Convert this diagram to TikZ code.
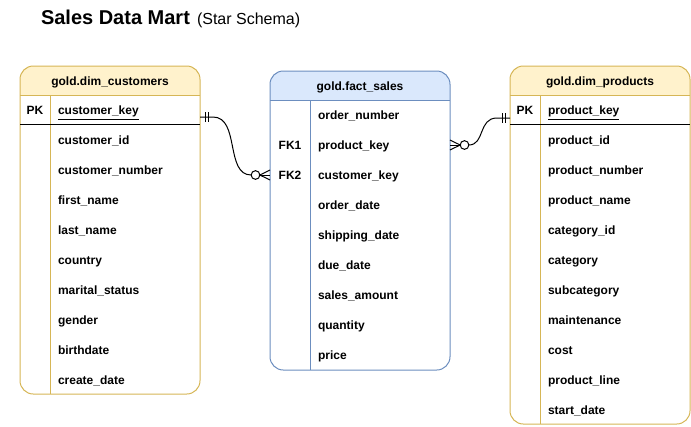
\documentclass[tikz,border=0pt]{standalone}
\usepackage{fontspec}
\setmainfont{Liberation Sans}
\usetikzlibrary{calc}
\definecolor{dimfill}{HTML}{FFF2CC}
\definecolor{dimline}{HTML}{D6B656}
\definecolor{factfill}{HTML}{DAE8FC}
\definecolor{factline}{HTML}{6C8EBF}
\begin{document}
\begin{tikzpicture}[x=0.75pt,y=-0.75pt,line width=0.75pt,
  every node/.style={inner sep=0pt, outer sep=0pt},
  txt/.style={font=\fontsize{9}{11}\selectfont\bfseries},
  col/.style={txt, anchor=base west},
  keyl/.style={txt, anchor=base},
  hdr/.style={txt, anchor=base},
  conn/.style={draw=black, line width=0.75pt},
  bar/.style={draw=black, line width=0.75pt}]
\useasboundingbox (0,0) rectangle (691,426);

% title
\node[anchor=base west, font=\fontsize{15}{18}\selectfont\bfseries] (title) at (41,24) {Sales Data Mart};
\node[anchor=base west, font=\fontsize{12}{14}\selectfont] (subtitle) at (197,24) {(Star Schema)};

% ---------- customers ----------
\begin{scope}
\clip[rounded corners=10] (20,66) rectangle (200,394);
\fill[white] (20,66) rectangle (200,394);
\fill[dimfill] (20,66) rectangle (200,95);
\end{scope}
\draw[dimline, rounded corners=10] (20,66) rectangle (200,394);
\draw[dimline] (20,95) -- (200,95);
\draw[dimline] (50,95) -- (50,394);
\draw[black] (20,124.5) -- (200,124.5);
\node[hdr] (custhdr) at (110,85) {gold.dim\_customers};
\node[keyl] (cpk) at (35,114.5) {PK};
\node[col] (c0) at (58,114.5) {\underline{customer\_key}};
\foreach \t [count=\i] in {customer\_id,customer\_number,first\_name,last\_name,country,marital\_status,gender,birthdate,create\_date}
  \node[col] (c\i) at (58,114.5+30*\i) {\t};

% ---------- fact ----------
\begin{scope}
\clip[rounded corners=10] (270,71) rectangle (450,370);
\fill[white] (270,71) rectangle (450,370);
\fill[factfill] (270,71) rectangle (450,100);
\end{scope}
\draw[factline, rounded corners=10] (270,71) rectangle (450,370);
\draw[factline] (270,100) -- (450,100);
\draw[factline] (310,100) -- (310,370);
\node[hdr] (facthdr) at (360,90) {gold.fact\_sales};
\node[keyl] (fk1) at (290,149.5) {FK1};
\node[keyl] (fk2) at (290,179.5) {FK2};
\foreach \t [count=\i] in {order\_number,product\_key,customer\_key,order\_date,shipping\_date,due\_date,sales\_amount,quantity,price}
  \node[col] (f\i) at (318,89.5+30*\i) {\t};

% ---------- products ----------
\begin{scope}
\clip[rounded corners=10] (510,66) rectangle (690,424);
\fill[white] (510,66) rectangle (690,424);
\fill[dimfill] (510,66) rectangle (690,95);
\end{scope}
\draw[dimline, rounded corners=10] (510,66) rectangle (690,424);
\draw[dimline] (510,95) -- (690,95);
\draw[dimline] (540,95) -- (540,424);
\draw[black] (510,124.5) -- (690,124.5);
\node[hdr] (prodhdr) at (600,85) {gold.dim\_products};
\node[keyl] (ppk) at (525,114.5) {PK};
\node[col] (p0) at (548,114.5) {\underline{product\_key}};
\foreach \t [count=\i] in {product\_id,product\_number,product\_name,category\_id,category,subcategory,maintenance,cost,product\_line,start\_date}
  \node[col] (p\i) at (548,114.5+30*\i) {\t};

% ---------- connectors ----------
\coordinate (cA) at (200,117);
\coordinate (fB) at (270,175);
\coordinate (fC) at (450,145);
\coordinate (pD) at (510,118);

% customers -> fact (one to zero-or-many)
\node[draw=black, circle, minimum size=6.5pt, line width=0.75pt, fill=white] (circL) at (255.5,175) {};
\draw[conn] (cA) -- ++(13,0) .. controls (240,117) and (225,175) .. (circL.west);
\draw[bar] ($(cA)+(5,-5)$) -- ($(cA)+(5,5)$);
\draw[bar] ($(cA)+(8,-5)$) -- ($(cA)+(8,5)$);
\draw[conn] (circL.east) -- (fB);
\draw[conn] ($(fB)+(0,-5)$) -- (circL.east) -- ($(fB)+(0,5)$);

% fact -> products
\node[draw=black, circle, minimum size=6.5pt, line width=0.75pt, fill=white] (circR) at (464.5,145) {};
\draw[conn] (circR.west) -- (fC);
\draw[conn] ($(fC)+(0,-5)$) -- (circR.west) -- ($(fC)+(0,5)$);
\draw[conn] (circR.east) .. controls (485,145) and (478,118) .. (497,118) -- (pD);
\draw[bar] ($(pD)+(-5,-5)$) -- ($(pD)+(-5,5)$);
\draw[bar] ($(pD)+(-8,-5)$) -- ($(pD)+(-8,5)$);
\end{tikzpicture}
\end{document}
